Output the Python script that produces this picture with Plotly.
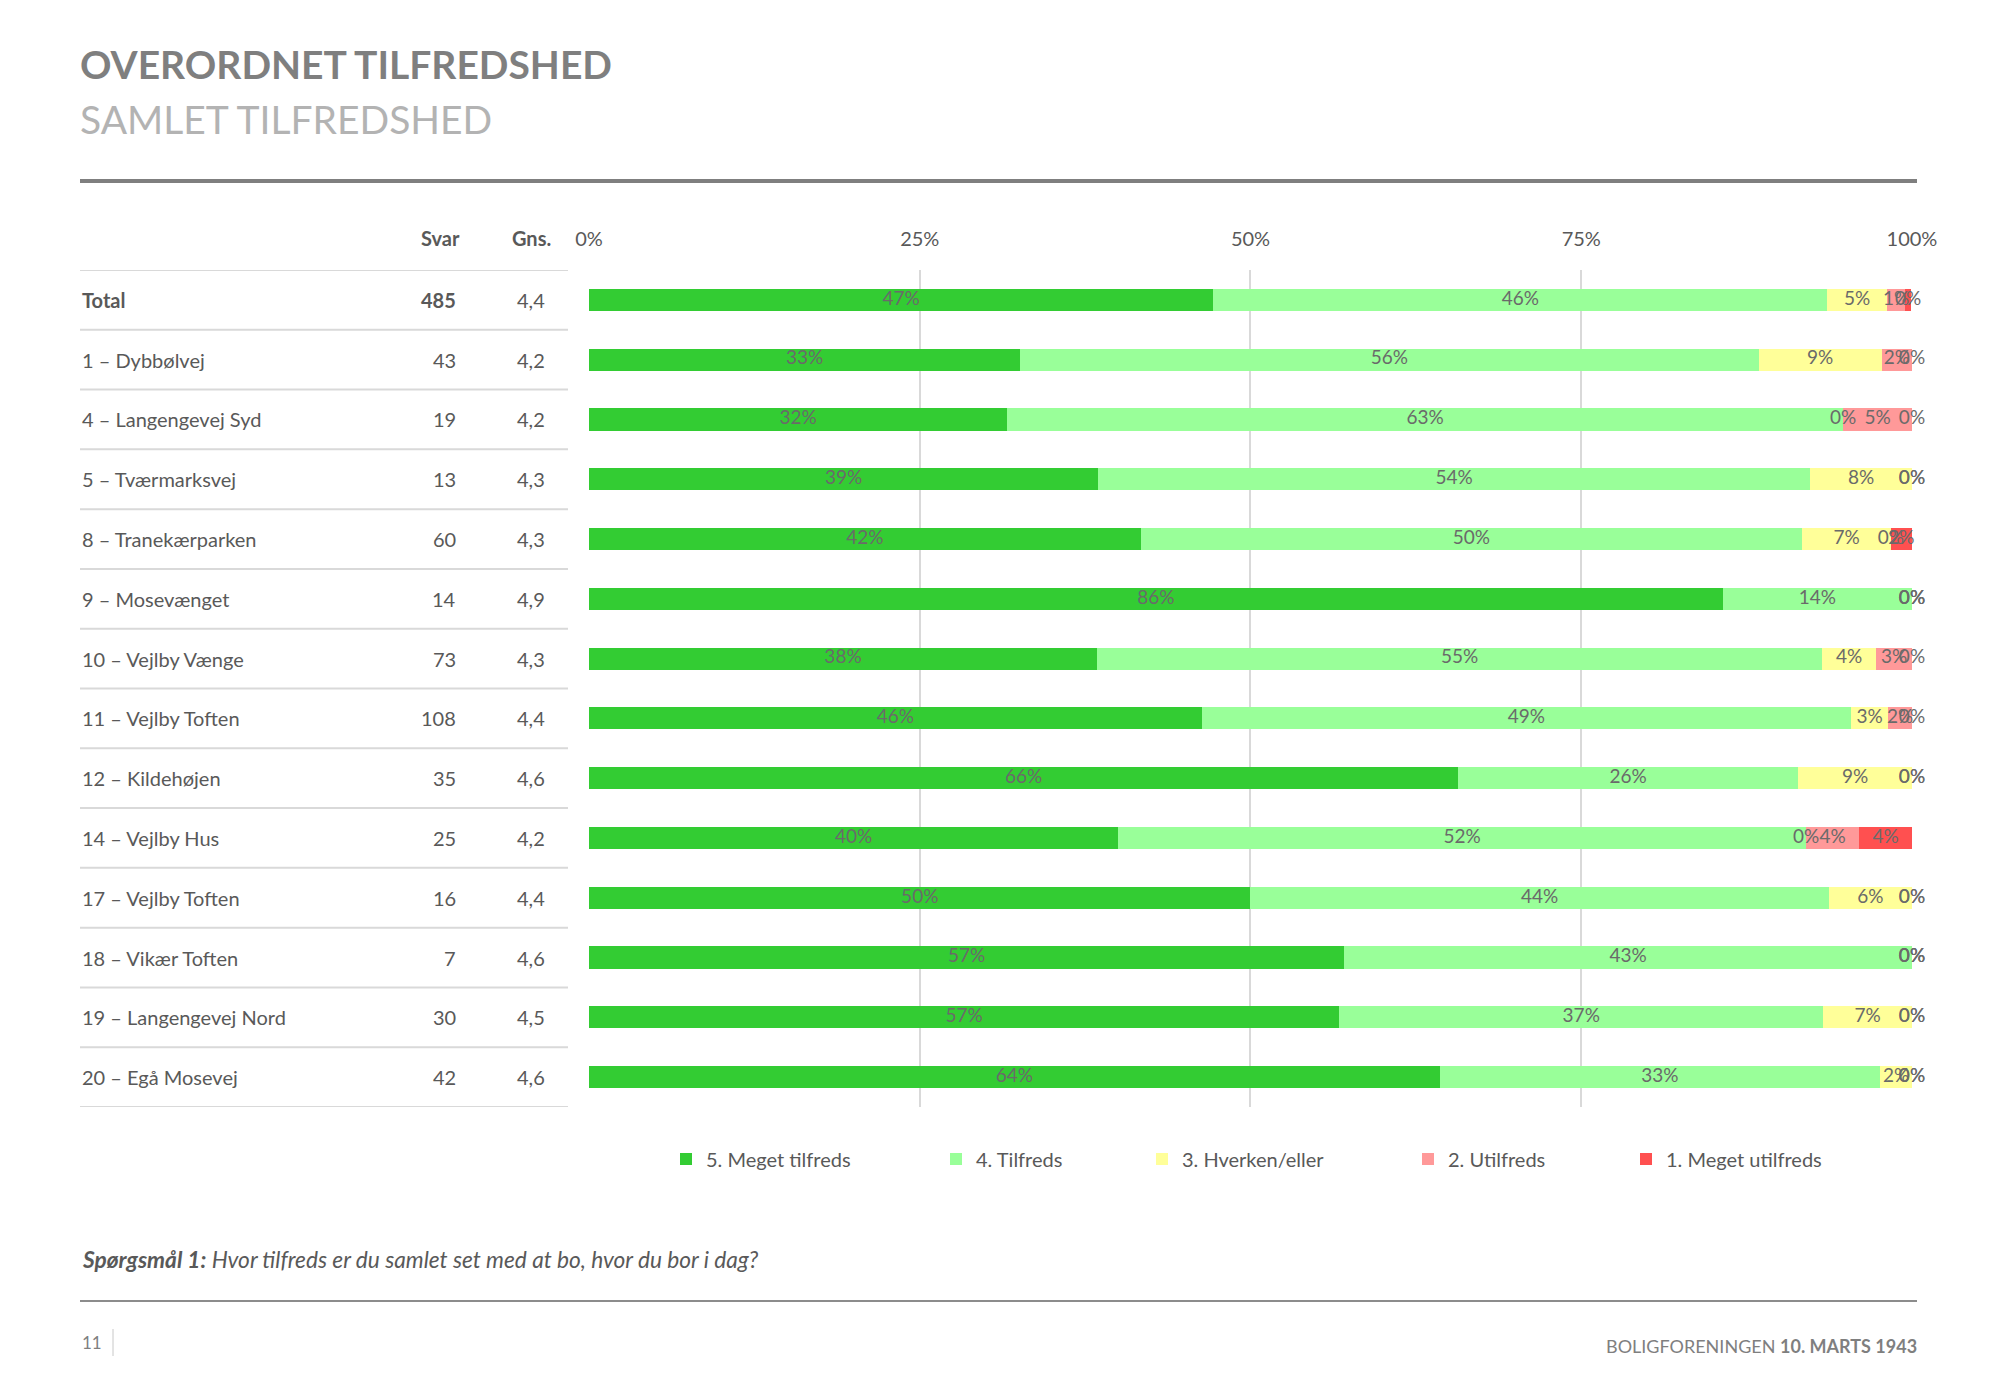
import plotly.graph_objects as go

# ---------------- data ----------------
rows = ["Total", "1 – Dybbølvej", "4 – Langengevej Syd", "5 – Tværmarksvej",
        "8 – Tranekærparken", "9 – Mosevænget", "10 – Vejlby Vænge",
        "11 – Vejlby Toften", "12 – Kildehøjen", "14 – Vejlby Hus",
        "17 – Vejlby Toften", "18 – Vikær Toften", "19 – Langengevej Nord",
        "20 – Egå Mosevej"]
svar = [485, 43, 19, 13, 60, 14, 73, 108, 35, 25, 16, 7, 30, 42]
gns = ["4,4", "4,2", "4,2", "4,3", "4,3", "4,9", "4,3", "4,4", "4,6", "4,2",
       "4,4", "4,6", "4,5", "4,6"]

series_names = ["5. Meget tilfreds", "4. Tilfreds", "3. Hverken/eller",
                "2. Utilfreds", "1. Meget utilfreds"]
v5 = [47.2, 32.6, 31.6, 38.5, 41.7, 85.7, 38.4, 46.3, 65.7, 40.0, 50.0, 57.1, 56.7, 64.3]
v4 = [46.4, 55.8, 63.2, 53.8, 50.0, 14.3, 54.8, 49.1, 25.7, 52.0, 43.7, 42.9, 36.6, 33.3]
v3 = [4.5, 9.3, 0.0, 7.7, 6.7, 0.0, 4.1, 2.8, 8.6, 0.0, 6.3, 0.0, 6.7, 2.4]
v2 = [1.4, 2.3, 5.2, 0.0, 0.0, 0.0, 2.7, 1.8, 0.0, 4.0, 0.0, 0.0, 0.0, 0.0]
v1 = [0.4, 0.0, 0.0, 0.0, 1.6, 0.0, 0.0, 0.0, 0.0, 4.0, 0.0, 0.0, 0.0, 0.0]
series_values = [v5, v4, v3, v2, v1]

x_ticks = [0, 25, 50, 75, 100]
x_ticktext = ["0%", "25%", "50%", "75%", "100%"]

# ---------------- styles ----------------
W, H = 2000, 1385
OFF = 8  # page body margin in the browser
FONT = "Lato"
colors = ["#33CC33", "#99FF99", "#FFFF99", "#FF9999", "#FF5050"]
TXT = "#595959"
LBL = "#6a6a6a"

def px_x(p):
    return (p - OFF) / W

def px_y(p):
    return 1 - (p - OFF) / H

fig = go.Figure()

# stacked bars
for i, (name, vals) in enumerate(zip(series_names, series_values)):
    fig.add_trace(go.Bar(
        y=rows, x=vals, name=name, orientation="h",
        marker=dict(color=colors[i], line=dict(width=0)),
        width=0.37, legend="legend" if i == 0 else f"legend{i+1}",
        hoverinfo="skip",
    ))

# data labels (centered in each segment, also for zero segments)
cum = [0.0] * len(rows)
for i, vals in enumerate(series_values):
    xs, txt = [], []
    for r, v in enumerate(vals):
        xs.append(round(cum[r] + v / 2, 6))
        txt.append(f"{int(v + 0.5)}%")
        cum[r] = round(cum[r] + v, 6)
    fig.add_trace(go.Scatter(
        x=xs, y=rows, mode="text", text=txt, textposition="middle center",
        textfont=dict(family=FONT, size=19, color=LBL),
        showlegend=False, hoverinfo="skip", cliponaxis=False,
    ))

plot_x0, plot_x1 = 589, 1912
plot_top, plot_bot = 270, 1107

fig.update_layout(
    template="none",
    width=W, height=H, autosize=False,
    margin=dict(l=0, r=0, t=0, b=0, pad=0, autoexpand=False),
    paper_bgcolor="white", plot_bgcolor="white",
    barmode="stack", bargap=0.63,
    font=dict(family=FONT, color=TXT, size=20),
    xaxis=dict(
        domain=[px_x(plot_x0), px_x(plot_x1)], range=[0, 100.001], side="top",
        tickvals=x_ticks, ticktext=x_ticktext, showgrid=True,
        gridcolor="#d9d9d9", gridwidth=2, zeroline=False, showline=False,
        ticks="", ticklabelstandoff=19, automargin=False,
        tickfont=dict(family=FONT, size=20, color=TXT), fixedrange=True,
    ),
    yaxis=dict(
        domain=[px_y(plot_bot), px_y(plot_top)], type="category",
        categoryorder="array", categoryarray=rows,
        range=[len(rows) - 0.5, -0.5], autorange=False, showticklabels=False,
        showgrid=False, zeroline=False, ticks="", fixedrange=True, automargin=False,
    ),
)

# legends, one per series, positioned like the original
legend_text_x = [703, 973, 1179, 1445, 1663]
legend_y = 1159
for i, tx in enumerate(legend_text_x):
    key = "legend" if i == 0 else f"legend{i+1}"
    fig.layout[key] = dict(
        x=px_x(tx - 37), y=px_y(legend_y), xanchor="left", yanchor="middle",
        orientation="h", bgcolor="rgba(0,0,0,0)",
        font=dict(family=FONT, size=20, color=TXT), itemclick=False,
    )

ann = []
shapes = []

# titles
ann.append(dict(text="<b>OVERORDNET TILFREDSHED</b>", x=px_x(78), y=px_y(64),
                xref="paper", yref="paper", xanchor="left", yanchor="middle",
                showarrow=False, font=dict(family=FONT, size=39, color="#7f7f7f")))
ann.append(dict(text="SAMLET TILFREDSHED", x=px_x(78), y=px_y(119),
                xref="paper", yref="paper", xanchor="left", yanchor="middle",
                showarrow=False, font=dict(family=FONT, size=39, color="#b3b3b3")))
shapes.append(dict(type="line", xref="paper", yref="paper", x0=px_x(80), x1=px_x(1917),
                   y0=px_y(181), y1=px_y(181), line=dict(color="#7f7f7f", width=4)))

# table header
hdr_y = px_y(238)
ann.append(dict(text="<b>Svar</b>", x=px_x(462), y=hdr_y, xref="paper", yref="paper",
                xanchor="right", yanchor="middle", showarrow=False))
ann.append(dict(text="<b>Gns.</b>", x=px_x(531), y=hdr_y, xref="paper", yref="paper",
                xanchor="center", yanchor="middle", showarrow=False))

# table rows
for r, name in enumerate(rows):
    bold = r == 0
    lab = f"<b>{name}</b>" if bold else name
    sv = f"<b>{svar[r]}</b>" if bold else str(svar[r])
    ann.append(dict(text=lab, x=px_x(80), y=name, xref="paper", yref="y",
                    xanchor="left", yanchor="middle", showarrow=False))
    ann.append(dict(text=sv, x=px_x(458), y=name, xref="paper", yref="y",
                    xanchor="right", yanchor="middle", showarrow=False))
    ann.append(dict(text=gns[r], x=px_x(531), y=name, xref="paper", yref="y",
                    xanchor="center", yanchor="middle", showarrow=False))

for k in range(len(rows) + 1):
    shapes.append(dict(type="line", xref="paper", yref="y", x0=px_x(80), x1=px_x(568),
                       y0=k - 0.5, y1=k - 0.5, line=dict(color="#d9d9d9", width=2)))

# footer
ann.append(dict(text="<b><i>Spørgsmål 1:</i></b><i> Hvor tilfreds er du samlet set med at bo, hvor du bor i dag?</i>",
                x=px_x(80), y=px_y(1259), xref="paper", yref="paper", xanchor="left",
                yanchor="middle", showarrow=False, font=dict(family=FONT, size=22.7, color=TXT)))
shapes.append(dict(type="line", xref="paper", yref="paper", x0=px_x(80), x1=px_x(1917),
                   y0=px_y(1301), y1=px_y(1301), line=dict(color="#8c8c8c", width=2)))
ann.append(dict(text="11", x=px_x(80), y=px_y(1342), xref="paper", yref="paper",
                xanchor="left", yanchor="middle", showarrow=False,
                font=dict(family=FONT, size=17, color="#7f7f7f")))
shapes.append(dict(type="line", xref="paper", yref="paper", x0=px_x(113), x1=px_x(113),
                   y0=px_y(1329), y1=px_y(1356), line=dict(color="#c8c8c8", width=1)))
ann.append(dict(text="BOLIGFORENINGEN <b>10. MARTS 1943</b>", x=px_x(1919), y=px_y(1346),
                xref="paper", yref="paper", xanchor="right", yanchor="middle",
                showarrow=False, font=dict(family=FONT, size=18, color="#7f7f7f")))

fig.update_layout(annotations=ann, shapes=shapes)
fig.write_html("out.html")
